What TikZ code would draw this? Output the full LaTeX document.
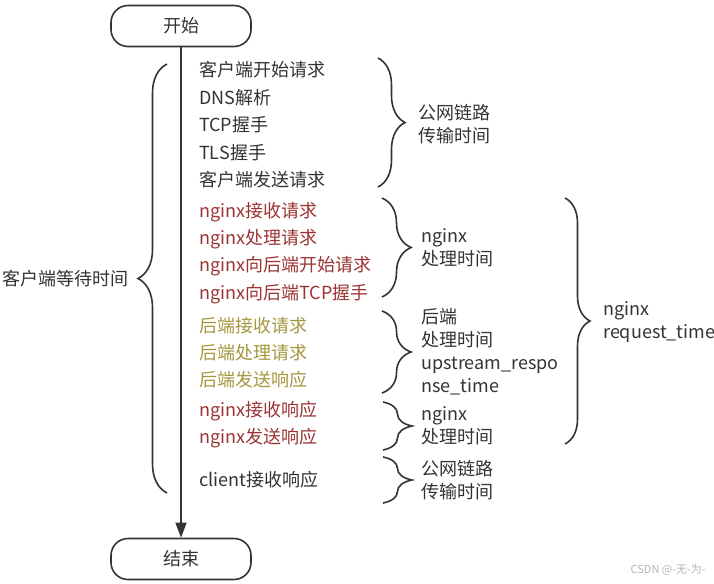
\documentclass[tikz,border=0pt]{standalone}
\usepackage{fontspec}
\setmainfont{Noto Sans CJK SC}
\usetikzlibrary{arrows.meta,decorations.pathreplacing}
\definecolor{txtdark}{HTML}{333333}
\definecolor{nginxred}{HTML}{9C3433}
\definecolor{backolive}{HTML}{A6963F}
\definecolor{markgray}{HTML}{B4B4B4}
\begin{document}
\begin{tikzpicture}[x=1pt,y=-1pt,
        every node/.style={font=\fontsize{18}{23}\selectfont,text=txtdark,inner sep=0pt},
        endbox/.style={draw=txtdark,line width=1.6pt,rounded corners=17pt,minimum width=140pt,minimum height=41pt},
        stepline/.style={anchor=west},
        note/.style={anchor=west,align=left},
        bracel/.style={decorate,decoration={brace,amplitude=#1},line width=1.6pt,draw=txtdark}]
    \useasboundingbox (0,0) rectangle (714,583);
    % start / end
    \node[endbox] (start) at (181,26) {开始};
    \node[endbox] (finish) at (181,559) {结束};
    \draw[line width=1.5pt,draw=txtdark,-{Triangle[length=15pt,width=11pt]}] (start) -- (finish);
    % steps
    \node[stepline] (s1) at (199,70) {客户端开始请求};
    \node[stepline] (s2) at (199,98) {DNS解析};
    \node[stepline] (s3) at (199,125) {TCP握手};
    \node[stepline] (s4) at (199,153) {TLS握手};
    \node[stepline] (s5) at (199,180) {客户端发送请求};
    \node[stepline,text=nginxred] (s6) at (199,212) {nginx接收请求};
    \node[stepline,text=nginxred] (s7) at (199,239) {nginx处理请求};
    \node[stepline,text=nginxred] (s8) at (199,266) {nginx向后端开始请求};
    \node[stepline,text=nginxred] (s9) at (199,294) {nginx向后端TCP握手};
    \node[stepline,text=backolive] (s10) at (199,326) {后端接收请求};
    \node[stepline,text=backolive] (s11) at (199,353) {后端处理请求};
    \node[stepline,text=backolive] (s12) at (199,380) {后端发送响应};
    \node[stepline,text=nginxred] (s13) at (199,411) {nginx接收响应};
    \node[stepline,text=nginxred] (s14) at (199,438) {nginx发送响应};
    \node[stepline] (s15) at (199,480) {client接收响应};
    % client wait
    \draw[bracel=29pt] (167,493) -- (167,64);
    \node[anchor=east] (wait) at (129,279) {客户端等待时间};
    % right braces
    \draw[bracel=27pt] (378,58) -- (378,187);
    \node[note] (net1) at (418,124) {公网链路\\传输时间};
    \draw[bracel=29pt] (382,198) -- (382,297);
    \node[note] (ngx1) at (421,248) {nginx\\处理时间};
    \draw[bracel=29pt] (382,311) -- (382,393);
    \node[note] (back) at (421,352) {后端\\处理时间\\upstream\_respo\\nse\_time};
    \draw[bracel=29pt] (383,402) -- (383,450);
    \node[note] (ngx2) at (421,426) {nginx\\处理时间};
    \draw[bracel=29pt] (383,457) -- (383,503);
    \node[note] (net2) at (421,480) {公网链路\\传输时间};
    \draw[bracel=25pt] (565,198) -- (565,444);
    \node[note] (reqtime) at (603,322) {nginx\\request\_time};
    % watermark
    \node[anchor=east,font=\fontsize{11}{13}\selectfont,text=markgray] (mark) at (706,570) {CSDN @-无-为-};
\end{tikzpicture}
\end{document}
